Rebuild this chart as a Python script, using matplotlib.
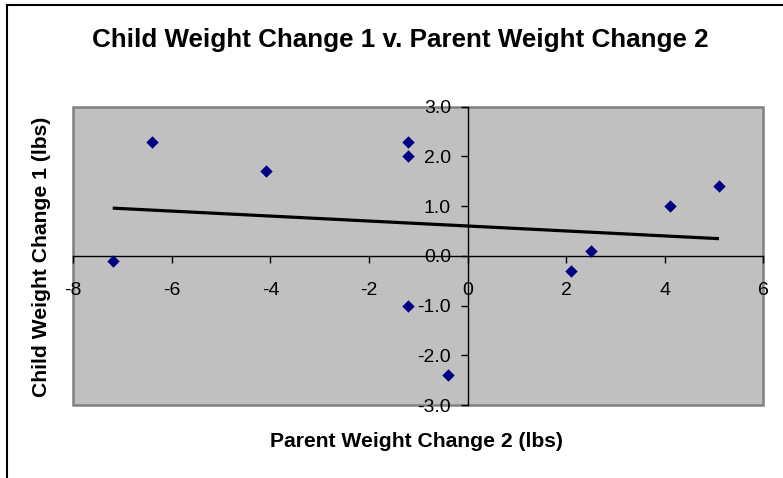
import matplotlib
matplotlib.use("Agg")
import matplotlib.pyplot as plt
import numpy as np
from matplotlib.patches import Rectangle
from matplotlib.lines import Line2D

plt.rcParams['font.family'] = ['Liberation Sans', 'DejaVu Sans']

parent_change = [-7.2, -6.4, -4.1, -1.2, -1.2, -1.2, -0.4, 2.1, 2.5, 4.1, 5.1]
child_change = [-0.1, 2.3, 1.7, 2.3, 2.0, -1.0, -2.4, -0.3, 0.1, 1.0, 1.4]
x_ticks = [-8, -6, -4, -2, 0, 2, 4, 6]
y_ticks = [-3.0, -2.0, -1.0, 0.0, 1.0, 2.0, 3.0]
title = "Child Weight Change 1 v. Parent Weight Change 2"
xlabel = "Parent Weight Change 2 (lbs)"
ylabel = "Child Weight Change 1 (lbs)"

W, H = 783, 478
fig = plt.figure(figsize=(W / 100, H / 100), dpi=100)
fig.patch.set_facecolor('white')

left, right, top, bottom = 73.3, 763.3, 106.7, 405.0
ax = fig.add_axes([left / W, 1 - bottom / H, (right - left) / W, (bottom - top) / H])
ax.set_facecolor('#C0C0C0')

ax.scatter(parent_change, child_change, marker='D', s=40, color='#000080', zorder=4, linewidths=0)

x = np.array(parent_change)
y = np.array(child_change)
m, b = np.polyfit(x, y, 1)
xs = np.array([x.min(), x.max()])
ax.plot(xs, m * xs + b, color='black', lw=2.3, zorder=3, solid_capstyle='butt')

ax.set_xlim(-8, 6)
ax.set_ylim(-3, 3)
ax.set_xticks(x_ticks)
ax.set_xticklabels([f"{t:d}" for t in x_ticks])
ax.set_yticks(y_ticks)
ax.set_yticklabels([f"{t:.1f}" for t in y_ticks])

for s in ['top', 'right']:
    ax.spines[s].set_visible(False)
ax.spines['left'].set_position(('data', 0))
ax.spines['bottom'].set_position(('data', 0))
for s in ['left', 'bottom']:
    ax.spines[s].set_color('black')
    ax.spines[s].set_linewidth(1.0)
    ax.spines[s].set_zorder(2)

ax.tick_params(axis='x', direction='out', length=5, width=1, pad=14, labelsize=14, colors='black')
ax.tick_params(axis='y', direction='out', length=5, width=1, pad=7, labelsize=14, colors='black')

border = Rectangle((0, 0), 1, 1, transform=ax.transAxes, fill=False,
                   edgecolor='#808080', lw=1.8, clip_on=False, zorder=1)
ax.add_patch(border)

fig.text(400 / W, 1 - 40 / H, title, ha='center', va='center', fontsize=18.7, fontweight='bold')
fig.text(416.7 / W, 1 - 441.7 / H, xlabel, ha='center', va='center', fontsize=15.2, fontweight='bold')
fig.text(42 / W, 1 - 257 / H, ylabel, ha='center', va='center', fontsize=15.2, fontweight='bold', rotation=90)

fig.add_artist(Line2D([6.5 / W, 6.5 / W], [0, 1 - 4.5 / H], transform=fig.transFigure, color='black', lw=1.5))
fig.add_artist(Line2D([6.5 / W, 1], [1 - 4.5 / H, 1 - 4.5 / H], transform=fig.transFigure, color='black', lw=1.5))

fig.savefig('out.png', dpi=100, facecolor='white')
